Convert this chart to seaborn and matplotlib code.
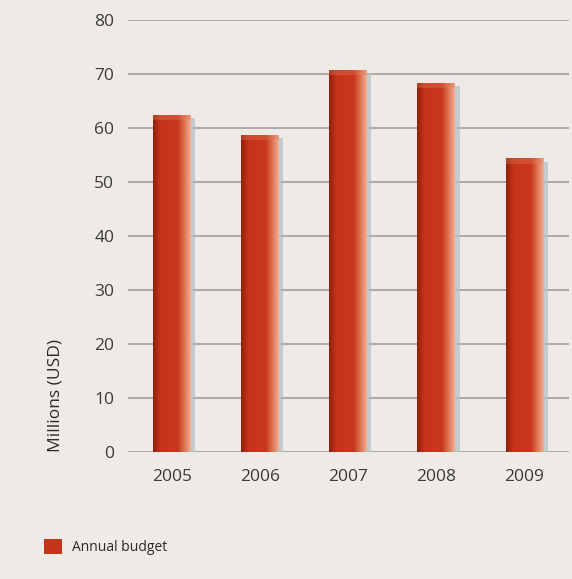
import numpy as np
import pandas as pd
import matplotlib
matplotlib.use("Agg")
import matplotlib.pyplot as plt
import seaborn as sns
from matplotlib.colors import LinearSegmentedColormap

# Dados
anos = ["2005", "2006", "2007", "2008", "2009"]
orcamento = [62.5, 58.8, 70.8, 68.4, 54.4]
rotulo_serie = "Annual budget"
rotulo_y = "Millions (USD)"
ticks_y = [0, 10, 20, 30, 40, 50, 60, 70, 80]

cor_fundo = "#eeebe7"
cor_barra = "#c4351c"

sns.set_theme(style="white")
plt.rcParams["font.family"] = ["Open Sans", "DejaVu Sans"]

df = pd.DataFrame({"ano": anos, "valor": orcamento})

fig = plt.figure(figsize=(5.72, 5.79), dpi=100)
fig.patch.set_facecolor(cor_fundo)
ax = fig.add_axes([0.224, 0.219, 0.77, 0.746])
ax.set_facecolor(cor_fundo)

sns.barplot(data=df, x="ano", y="valor", color=cor_barra, width=0.43,
            saturation=1, label=rotulo_serie, ax=ax, zorder=3, linewidth=0)

# Grade horizontal
ax.set_ylim(0, 80)
ax.set_yticks(ticks_y)
for t in ticks_y:
    ax.axhline(t, color="#aeaaa6", lw=1.4, zorder=1)

# Sombreamento das barras (efeito 3D)
cmap = LinearSegmentedColormap.from_list(
    "barra", [(0.0, "#8e200c"), (0.1, "#ae2913"), (0.2, "#c5341b"),
              (0.66, "#c9381e"), (0.8, "#dc6a48"), (1.0, "#eeb098")])
grad = np.linspace(0, 1, 256).reshape(1, -1)
for p in ax.patches:
    x0, y0 = p.get_x(), p.get_y()
    w, h = p.get_width(), p.get_height()
    # sombra à direita
    ax.add_patch(plt.Rectangle((x0 + w, y0), w * 0.11, h - 0.6,
                               color="#b4bfc3", alpha=0.7, zorder=2, lw=0))
    im = ax.imshow(grad, extent=[x0, x0 + w, y0, y0 + h], aspect="auto",
                   cmap=cmap, zorder=4)
    im.set_clip_path(p)
    # topo mais claro
    ax.add_patch(plt.Rectangle((x0, y0 + h - 1.0), w, 1.0,
                               color="#e27a5a", alpha=0.35, zorder=5, lw=0))

ax.set_xlim(-0.5, 4.5)
ax.set_xlabel("")
ax.set_ylabel(rotulo_y, fontsize=12.5, color="#2a2a2a", labelpad=22, loc="bottom")
ax.tick_params(axis="both", length=0, labelsize=12.5, labelcolor="#3a3a3a")
ax.tick_params(axis="y", pad=10)
ax.tick_params(axis="x", pad=12)
for s in ax.spines.values():
    s.set_visible(False)

leg = ax.legend(loc="lower left", bbox_to_anchor=(0.055, 0.02),
                bbox_transform=fig.transFigure, frameon=False,
                fontsize=10, handlelength=1.3, handleheight=1.3,
                handletextpad=0.7, labelcolor="#2a2a2a")

fig.savefig("out.png", dpi=100, facecolor=cor_fundo)
